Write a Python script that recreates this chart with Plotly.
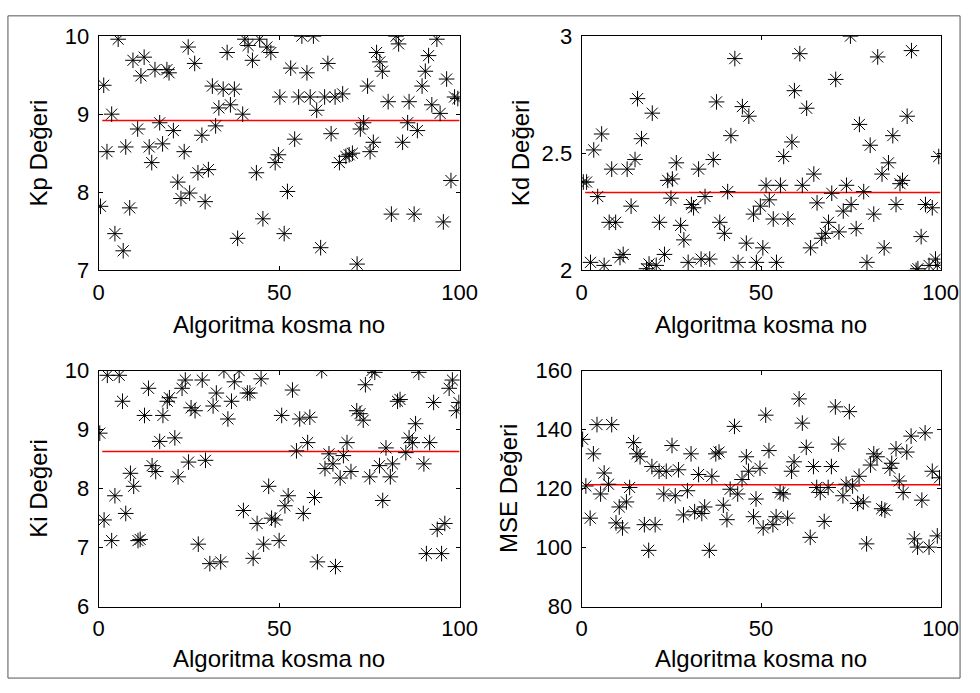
import plotly.graph_objects as go

# ---------------- data ----------------
kp_x = [0.5,1.4,2.3,3.6,4.5,5.4,6.8,7.5,8.6,9.5,
        10.8,11.7,12.6,14.0,14.7,15.6,16.9,17.7,18.9,19.5,
        20.7,21.9,22.8,23.7,24.8,25.2,26.6,27.5,28.6,29.5,
        30.4,31.5,32.4,33.3,34.5,35.6,36.5,37.6,38.5,39.9,
        40.5,41.4,42.6,43.7,44.6,45.5,46.6,47.7,48.9,49.8,
        50.2,51.4,52.3,53.2,54.3,55.4,56.3,57.7,58.6,59.5,
        60.4,61.5,62.6,63.5,64.4,65.5,66.7,67.6,68.5,69.4,
        70.3,71.6,72.5,73.4,74.5,75.2,76.1,77.0,77.9,78.6,
        80.2,81.1,82.4,83.1,84.2,85.6,86.0,87.4,88.3,89.6,
        90.5,91.4,92.3,93.7,94.6,95.5,96.4,97.6,98.6,99.5]
kp_y = [7.82,9.37,8.52,9.00,7.47,9.96,7.25,8.58,7.80,9.69,
        8.81,9.49,9.73,8.58,8.38,9.57,8.89,8.62,9.57,9.53,
        8.79,8.13,7.92,8.52,9.86,7.99,9.65,8.25,8.73,7.88,
        8.29,9.36,8.85,9.08,9.32,9.79,9.12,9.32,7.41,9.00,
        9.96,9.88,9.69,8.25,9.96,7.66,9.86,9.79,8.38,8.48,
        9.22,7.47,8.01,9.59,8.68,9.22,10.0,9.53,9.22,10.0,
        9.05,7.29,9.22,9.65,8.75,9.22,8.38,9.26,8.46,8.48,
        8.50,7.08,8.81,8.89,9.36,8.52,8.64,9.79,9.67,9.55,
        9.16,7.72,10.0,9.90,8.64,8.89,9.16,7.72,8.79,9.36,
        9.55,9.75,9.12,9.96,9.01,7.62,9.45,8.15,9.22,9.20]
kp_mean = 8.92

kd_x = [0.5,1.4,2.5,3.4,4.5,5.6,6.3,7.7,8.4,9.5,
        10.7,11.6,12.7,13.8,14.9,15.6,16.7,18.1,18.8,19.7,
        20.8,21.7,23.1,24.0,24.9,25.3,26.4,27.6,28.5,29.7,
        30.6,31.2,32.6,33.3,34.4,35.7,36.7,37.6,38.5,39.8,
        40.7,41.6,42.7,43.6,44.8,45.9,46.6,47.9,48.7,49.8,
        50.5,51.4,52.3,53.4,54.3,55.4,56.3,57.5,58.6,59.3,
        60.8,61.5,62.7,63.8,64.7,65.6,66.9,67.9,68.8,69.7,
        70.8,71.7,72.9,73.8,74.9,75.1,76.5,77.4,78.6,79.5,
        80.4,81.4,82.5,83.7,84.3,85.5,86.7,87.6,88.7,89.4,
        90.7,91.9,93.2,93.7,94.6,95.8,96.8,97.7,98.6,99.1,99.5]
kd_y = [2.377,2.377,2.034,2.514,2.315,2.582,2.021,2.205,2.432,2.205,
        2.055,2.068,2.432,2.274,2.473,2.733,2.562,2.007,2.027,2.671,
        2.021,2.205,2.068,2.384,2.308,2.390,2.459,2.192,2.130,2.034,
        2.281,2.267,2.432,2.048,2.315,2.048,2.473,2.719,2.205,2.158,
        2.336,2.575,2.904,2.034,2.699,2.116,2.658,2.240,2.034,2.274,
        2.096,2.363,2.301,2.219,2.034,2.363,2.486,2.219,2.548,2.767,
        2.925,2.363,2.692,2.096,2.411,2.288,2.137,2.158,2.205,2.329,
        2.815,2.164,2.253,2.363,3.0,2.281,2.178,2.623,2.336,2.034,
        2.534,2.240,2.911,2.411,2.096,2.459,2.575,2.281,2.370,2.384,
        2.658,2.938,2.0,2.007,2.144,2.281,2.021,2.267,2.048,2.021,2.486]
kd_mean = 2.332

ki_x = [0.3,1.5,2.4,3.6,4.5,5.7,6.6,7.5,8.8,9.7,
        10.9,11.5,12.7,13.8,14.8,15.8,16.9,17.8,19.0,19.6,
        21.1,22.0,23.1,24.0,24.9,25.6,26.7,27.6,28.7,29.6,
        30.8,31.7,32.6,33.8,34.7,35.8,36.8,37.6,38.9,40.1,
        41.2,41.9,42.8,43.9,45.0,45.7,47.1,47.9,48.9,50.0,
        50.7,51.6,52.5,53.7,54.8,55.7,56.7,57.9,58.5,59.8,
        60.6,61.8,62.7,63.8,64.9,65.6,66.9,67.8,68.8,69.9,
        71.5,72.4,73.3,73.9,75.1,75.7,76.5,77.8,78.7,79.6,
        80.8,81.4,82.8,83.5,85.1,86.0,86.9,87.8,88.7,90.1,
        90.8,91.7,92.8,93.8,95.0,95.9,97.1,98.0,99.1,99.8]
ki_y = [8.94,7.47,9.92,7.12,7.88,9.92,9.48,7.58,8.26,8.04,
        7.12,7.14,9.24,9.70,8.39,8.29,8.80,9.24,9.48,9.54,
        8.86,8.20,9.70,9.84,8.45,9.37,9.32,7.06,9.84,8.48,
        6.73,9.40,9.62,6.76,10.0,9.18,9.48,9.81,10.0,7.63,
        9.62,9.62,6.82,7.41,9.86,7.06,8.04,7.50,7.47,7.12,
        9.24,7.71,7.88,9.67,8.64,9.18,7.58,8.78,9.21,7.85,
        6.76,10.0,8.34,8.59,8.42,6.68,8.18,8.56,8.78,8.29,
        9.32,9.27,9.16,9.76,8.20,10.0,9.97,8.39,7.80,8.69,
        8.20,8.42,9.48,9.51,8.61,8.86,8.78,9.10,9.97,8.42,
        6.90,8.78,9.46,7.31,6.90,7.41,9.70,9.84,9.32,9.46]
ki_mean = 8.63

mse_x = [0.3,1.2,2.4,3.3,4.3,5.3,6.3,7.5,8.4,9.6,
         10.5,11.4,12.5,13.4,14.5,15.4,16.3,17.5,18.7,19.6,
         20.5,21.6,22.9,23.6,25.2,26.1,27.0,28.4,29.5,30.5,
         31.5,32.6,33.5,34.3,35.6,36.3,37.4,38.3,39.5,40.5,
         41.4,42.6,43.5,44.7,45.9,46.5,47.9,48.6,49.7,50.6,
         51.3,52.2,53.3,54.2,55.3,56.2,57.4,58.5,59.2,60.6,
         61.5,62.6,63.7,64.6,65.5,66.5,67.6,68.7,69.6,70.7,
         71.6,72.8,73.7,74.6,75.5,76.9,77.3,78.5,79.4,80.5,
         81.4,82.3,83.6,84.5,85.9,86.4,87.6,88.5,89.6,90.6,
         91.8,92.7,93.6,94.8,95.7,96.8,97.7,99.1,99.7]
mse_y = [136.7,120.9,110.0,131.8,141.7,118.2,125.3,121.5,141.7,108.4,
         113.8,106.7,115.5,120.4,135.6,131.8,130.8,107.8,99.1,127.5,
         107.8,125.9,118.2,125.9,134.6,117.6,126.4,111.1,119.3,131.8,
         112.2,124.8,111.6,113.8,99.1,124.2,131.8,132.4,114.4,109.5,
         119.8,141.1,118.2,123.1,130.8,125.9,110.5,116.5,126.9,106.7,
         144.9,132.9,107.8,110.5,118.7,118.2,110.0,125.9,129.1,150.4,
         142.2,134.0,103.5,127.5,120.4,118.7,108.9,120.4,127.5,147.7,
         135.1,117.6,121.5,146.1,120.9,115.0,124.2,115.5,101.3,128.0,
         131.8,130.8,113.2,112.7,126.9,128.6,133.5,122.6,118.7,132.4,
         137.8,103.0,100.2,116.1,138.9,100.2,125.9,104.0,123.7]
mse_mean = 121.3

x_title = "Algoritma kosma no"
y_titles = ["Kp Değeri", "Kd Değeri", "Ki Değeri", "MSE Değeri"]
y_ranges = [[7, 10], [2, 3], [6, 10], [80, 160]]
y_ticks = [[7, 8, 9, 10], [2, 2.5, 3], [6, 7, 8, 9, 10], [80, 100, 120, 140, 160]]
x_ticks = [0, 50, 100]
line_x = [1, 100]

series = [(kp_x, kp_y, kp_mean), (kd_x, kd_y, kd_mean),
          (ki_x, ki_y, ki_mean), (mse_x, mse_y, mse_mean)]

# ---------------- layout geometry ----------------
W, H = 980, 693
FONT = "Liberation Sans, Arial, sans-serif"
xdoms = [[95 / W, 465 / W], [590 / W, 958 / W]]
ydoms = [[1 - 268 / H, 1 - 25 / H], [1 - 617 / H, 1 - 372 / H]]

fig = go.Figure()
layout = dict(width=W, height=H, margin=dict(l=0, r=0, t=0, b=0),
              paper_bgcolor="white", plot_bgcolor="white", showlegend=False,
              font=dict(family=FONT, size=22, color="black"))
annotations = []
ytitle_x = [33, 527, 33, 515]
xtitle_y = [324, 671]

for i, (xs, ys, m) in enumerate(series):
    r, c = divmod(i, 2)
    sfx = "" if i == 0 else str(i + 1)
    xa, ya = "x" + sfx, "y" + sfx
    fig.add_trace(go.Scatter(x=line_x, y=[m, m], mode="lines", xaxis=xa, yaxis=ya,
                             line=dict(color="#ff0000", width=1.5), hoverinfo="skip"))
    fig.add_trace(go.Scatter(x=xs, y=ys, mode="markers", xaxis=xa, yaxis=ya,
                             marker=dict(symbol="asterisk-open", size=13, color="black",
                                         line=dict(color="black", width=1)),
                             hoverinfo="skip"))
    axcommon = dict(showline=True, linecolor="black", linewidth=1, mirror="ticks",
                    ticks="inside", ticklen=4, tickcolor="black", showgrid=False,
                    zeroline=False, tickfont=dict(family=FONT, size=22, color="black"))
    layout["xaxis" + sfx] = dict(domain=xdoms[c], anchor=ya, range=[0, 100],
                                 tickvals=x_ticks, ticklabelstandoff=2, **axcommon)
    layout["yaxis" + sfx] = dict(domain=ydoms[r], anchor=xa, range=y_ranges[i],
                                 tickvals=y_ticks[i], ticklabelstandoff=4, **axcommon)
    # axis titles
    xd = xdoms[c]
    annotations.append(dict(text=x_title, xref="paper", yref="paper",
                            x=(xd[0] + xd[1]) / 2, y=1 - xtitle_y[r] / H,
                            xanchor="center", yanchor="middle", showarrow=False,
                            font=dict(family=FONT, size=24, color="black")))
    yd = ydoms[r]
    annotations.append(dict(text=y_titles[i], xref="paper", yref="paper",
                            x=ytitle_x[i] / W, y=(yd[0] + yd[1]) / 2, textangle=-90,
                            xanchor="center", yanchor="middle", showarrow=False,
                            font=dict(family=FONT, size=24, color="black")))

layout["annotations"] = annotations
layout["shapes"] = [dict(type="rect", xref="paper", yref="paper",
                         x0=2 / W, x1=978 / W, y0=1 - 691 / H, y1=1 - 4 / H,
                         line=dict(color="#555555", width=1), fillcolor="rgba(0,0,0,0)",
                         layer="below")]
fig.update_layout(**layout)
fig.write_html("out.html")
